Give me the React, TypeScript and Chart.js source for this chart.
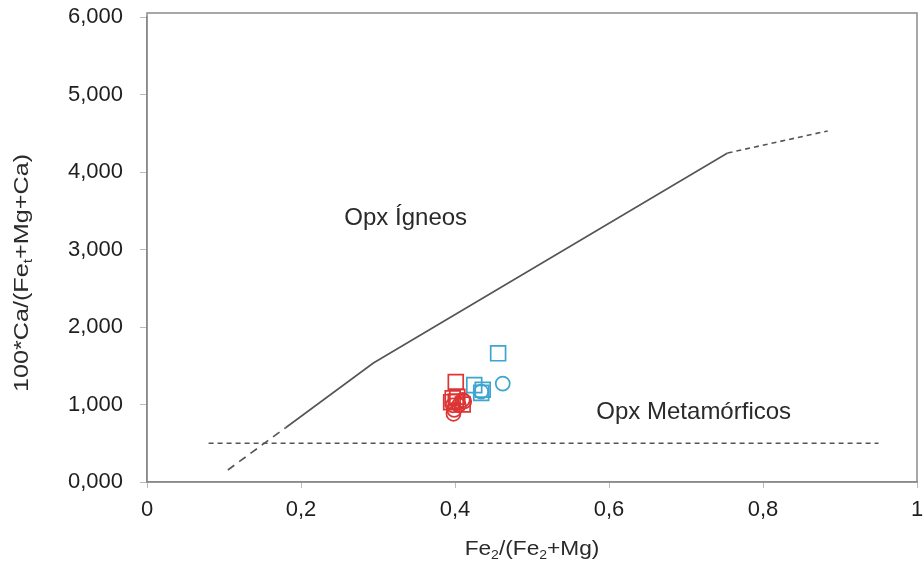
import React, { useEffect, useRef } from "react";
import { Chart, registerables } from "chart.js";

Chart.register(...registerables);

// Data (x = Fe2/(Fe2+Mg), y = 100*Ca/(Fet+Mg+Ca))
const blueSquaresX = [0.456, 0.425, 0.436, 0.434];
const blueSquaresY = [1.66, 1.25, 1.19, 1.15];
const blueCirclesX = [0.462, 0.434];
const blueCirclesY = [1.27, 1.165];
const redSquaresX = [0.401, 0.397, 0.403, 0.401, 0.395, 0.41];
const redSquaresY = [1.29, 1.08, 1.1, 1.04, 1.03, 1.0];
const redCirclesX = [0.399, 0.397, 0.41, 0.412, 0.405, 0.398];
const redCirclesY = [0.93, 0.99, 1.06, 1.04, 0.99, 0.88];

// Boundary lines
const lowerDashX = [0.105, 0.18];
const lowerDashY = [0.155, 0.7];
const solidX = [0.18, 0.294, 0.754];
const solidY = [0.7, 1.535, 4.245];
const upperDashX = [0.754, 0.884];
const upperDashY = [4.245, 4.53];
const horizDashX = [0.08, 0.95];
const horizDashY = [0.5, 0.5];

const xTicks = [0, 0.2, 0.4, 0.6, 0.8, 1];
const yTicks = [0, 1, 2, 3, 4, 5, 6];

const labelIgneos = "Opx Ígneos";
const labelIgneosPos = [0.336, 3.4];
const labelMeta = "Opx Metamórficos";
const labelMetaPos = [0.71, 0.9];

const toPts = (xs: number[], ys: number[]) => xs.map((x, i) => ({ x, y: ys[i] }));

const FONT = "'Liberation Sans', Arial, Helvetica, sans-serif";

type Part = { t: string; sub?: boolean };
function drawRich(ctx: CanvasRenderingContext2D, parts: Part[], cx: number, cy: number, size: number, stretch: number) {
  const subSize = Math.round(size * 0.62);
  let total = 0;
  const widths = parts.map((p) => {
    ctx.font = `${p.sub ? subSize : size}px ${FONT}`;
    const w = ctx.measureText(p.t).width;
    total += w;
    return w;
  });
  ctx.save();
  ctx.translate(cx, cy);
  ctx.scale(stretch, 1);
  let x = -total / 2;
  ctx.textBaseline = "middle";
  ctx.textAlign = "left";
  parts.forEach((p, i) => {
    ctx.font = `${p.sub ? subSize : size}px ${FONT}`;
    ctx.fillText(p.t, x, p.sub ? size * 0.3 : 0);
    x += widths[i];
  });
  ctx.restore();
}

const overlayPlugin = {
  id: "overlay",
  beforeDatasetsDraw(chart: any) {
    const { ctx, scales } = chart;
    ctx.save();
    ctx.fillStyle = "#2a2a2a";
    ctx.font = `24px ${FONT}`;
    ctx.textAlign = "center";
    ctx.textBaseline = "middle";
    ctx.fillText(labelIgneos, scales.x.getPixelForValue(labelIgneosPos[0]), scales.y.getPixelForValue(labelIgneosPos[1]));
    ctx.fillText(labelMeta, scales.x.getPixelForValue(labelMetaPos[0]), scales.y.getPixelForValue(labelMetaPos[1]));
    ctx.restore();
  },
  afterDraw(chart: any) {
    const { ctx, chartArea: a } = chart;
    ctx.save();
    ctx.strokeStyle = "#8a8a8a";
    ctx.lineWidth = 1.5;
    ctx.strokeRect(a.left, a.top - 4, a.right - a.left, a.bottom - a.top + 4);
    ctx.fillStyle = "#2a2a2a";
    drawRich(
      ctx,
      [{ t: "Fe" }, { t: "2", sub: true }, { t: "/(Fe" }, { t: "2", sub: true }, { t: "+Mg)" }],
      (a.left + a.right) / 2,
      549,
      21,
      1.08
    );
    ctx.translate(22, 273);
    ctx.rotate(-Math.PI / 2);
    drawRich(ctx, [{ t: "100*Ca/(Fe" }, { t: "t", sub: true }, { t: "+Mg+Ca)" }], 0, 0, 21, 1.2);
    ctx.restore();
  },
};

export default function App() {
  const ref = useRef<HTMLCanvasElement | null>(null);
  useEffect(() => {
    document.body.style.margin = "0";
    const lineDs = (xs: number[], ys: number[], dash: number[]) => ({
      type: "line" as const,
      data: toPts(xs, ys),
      borderColor: "#555",
      borderWidth: 1.6,
      borderDash: dash,
      pointRadius: 0,
      fill: false,
      tension: 0,
    });
    const markerDs = (xs: number[], ys: number[], color: string, style: string, r: number) => ({
      type: "scatter" as const,
      data: toPts(xs, ys),
      borderColor: color,
      backgroundColor: "rgba(0,0,0,0)",
      pointStyle: style,
      pointRadius: r,
      pointBorderWidth: 1.7,
    });
    const chart = new Chart(ref.current!, {
      type: "scatter",
      data: {
        datasets: [
          lineDs(lowerDashX, lowerDashY, [8, 6]),
          lineDs(solidX, solidY, []),
          lineDs(upperDashX, upperDashY, [5, 4]),
          lineDs(horizDashX, horizDashY, [5, 4]),
          markerDs(redCirclesX, redCirclesY, "#dc3535", "circle", 7),
          markerDs(redSquaresX, redSquaresY, "#dc3535", "rect", 10.5),
          markerDs(blueCirclesX, blueCirclesY, "#3ea5d0", "circle", 7),
          markerDs(blueSquaresX, blueSquaresY, "#3ea5d0", "rect", 10.5),
        ] as any,
      },
      options: {
        animation: false,
        responsive: false,
        layout: { autoPadding: false, padding: { top: 17, right: 6, left: 0, bottom: 0 } },
        plugins: { legend: { display: false }, tooltip: { enabled: false } },
        scales: {
          x: {
            type: "linear",
            min: 0,
            max: 1,
            afterBuildTicks: (s: any) => {
              s.ticks = xTicks.map((v) => ({ value: v }));
            },
            afterFit: (s: any) => {
              s.height = 83;
              s.paddingLeft = 0;
              s.paddingRight = 0;
            },
            ticks: {
              color: "#1e1e1e",
              font: { size: 22, family: FONT },
              padding: 9,
              maxRotation: 0,
              callback: (v: any) => String(v).replace(".", ","),
            },
            grid: { drawOnChartArea: false, drawTicks: true, tickLength: 6, color: "#bbb" },
            border: { display: true, color: "#8a8a8a", width: 1.5 },
          },
          y: {
            type: "linear",
            min: 0,
            max: 6,
            afterBuildTicks: (s: any) => {
              s.ticks = yTicks.map((v) => ({ value: v }));
            },
            afterFit: (s: any) => {
              s.width = 147;
              s.paddingTop = 0;
              s.paddingBottom = 0;
            },
            ticks: {
              color: "#1e1e1e",
              font: { size: 22, family: FONT },
              padding: 17,
              callback: (v: any) => Number(v).toFixed(3).replace(".", ","),
            },
            grid: { drawOnChartArea: false, drawTicks: true, tickLength: 7, color: "#bbb" },
            border: { display: true, color: "#8a8a8a", width: 1.5 },
          },
        },
      },
      plugins: [overlayPlugin],
    });
    return () => chart.destroy();
  }, []);
  return <canvas ref={ref} width={923} height={565} style={{ display: "block" }} />;
}
